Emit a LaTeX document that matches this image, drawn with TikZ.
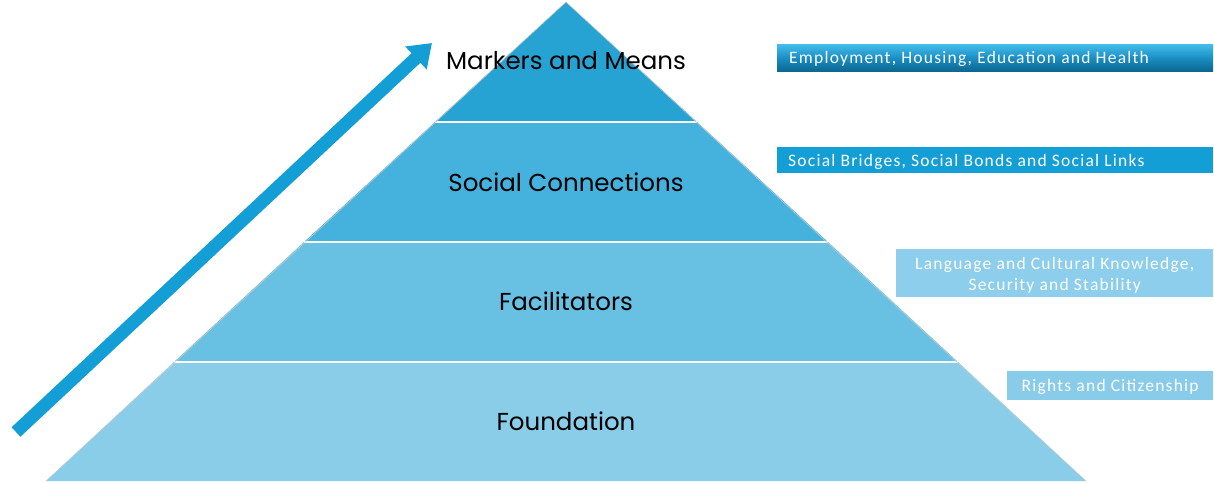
\documentclass[tikz,border=0pt]{standalone}
\usepackage{fontspec}
\setmainfont{Carlito}[LetterSpace=7]
\newfontfamily\pyrfont{Poppins}
\usetikzlibrary{arrows.meta}
\definecolor{bandA}{HTML}{27A3D3}
\definecolor{bandB}{HTML}{45B1DD}
\definecolor{bandC}{HTML}{68C0E2}
\definecolor{bandD}{HTML}{89CDE8}
\definecolor{arrowblue}{HTML}{139FD6}
\definecolor{boxtop}{HTML}{45BDEB}
\definecolor{boxmid}{HTML}{1A8FC4}
\definecolor{boxbot}{HTML}{0C6790}
\definecolor{boxB}{HTML}{139FD6}
\definecolor{boxC}{HTML}{8CCEEB}
\definecolor{boxD}{HTML}{89CCEA}
\tikzset{
  band/.style={draw=white, line width=1.5pt},
  plabel/.style={font=\pyrfont\fontsize{24.5}{28}\selectfont, text=black, inner sep=0pt},
  sidebox/.style={text=white, font=\fontsize{17.5}{20}\selectfont, inner sep=0pt, align=center},
}
\begin{document}
\begin{tikzpicture}[x=1pt,y=-1pt]
\useasboundingbox (0,0) rectangle (1214,482);
% pyramid bands
\fill[bandD] (46,481) -- (1086,481) -- (958,362) -- (174,362) -- cycle;
\fill[bandC] (174,362) -- (958,362) -- (828,242) -- (304,242) -- cycle;
\fill[bandB] (304,242) -- (828,242) -- (697,122) -- (435,122) -- cycle;
\fill[bandA] (435,122) -- (697,122) -- (566,2) -- cycle;
\draw[band] (174,362) -- (958,362);
\draw[band] (304,242) -- (828,242);
\draw[band] (435,122) -- (697,122);
\draw[gray!40, line width=0.5pt] (46,481) -- (566,2) -- (1086,481);
% labels
\node[plabel] (mm) at (566,61) {Markers and Means};
\node[plabel] (sc) at (566,182) {Social Connections};
\node[plabel] (fa) at (566,301) {Facilitators};
\node[plabel] (fo) at (566,421) {Foundation};
% arrow
\coordinate (arrS) at (16,432);
\coordinate (arrE) at (432,43);
\draw[arrowblue, line width=13pt, -{Triangle[length=22pt, width=30pt]}] (arrS) -- (arrE);
% side boxes
\node[sidebox, minimum width=436pt, minimum height=27pt, anchor=north west,
      top color=boxtop, bottom color=boxbot, middle color=boxmid] (b1) at (777,44) {};
\node[sidebox, anchor=west] (b1t) at (789,58.5) {Employment, Housing, Education and Health};
\node[sidebox, fill=boxB, minimum width=436pt, minimum height=26pt, anchor=north west] (b2) at (777,147) {};
\node[sidebox, anchor=west] (b2t) at (788,161.5) {Social Bridges, Social Bonds and Social Links};
\node[sidebox, fill=boxC, minimum width=317pt, minimum height=48pt, anchor=north west] (b3) at (896,249) {};
\node[sidebox, font=\fontsize{17.5}{20.5}\selectfont] (b3t) at ([yshift=-2pt]b3.center) {Language and Cultural Knowledge,\\Security and Stability};
\node[sidebox, fill=boxD, minimum width=206pt, minimum height=29pt, anchor=north west] (b4) at (1007,371) {};
\node[sidebox] (b4t) at ([yshift=-1.5pt]b4.center) {Rights and Citizenship};
\end{tikzpicture}
\end{document}
